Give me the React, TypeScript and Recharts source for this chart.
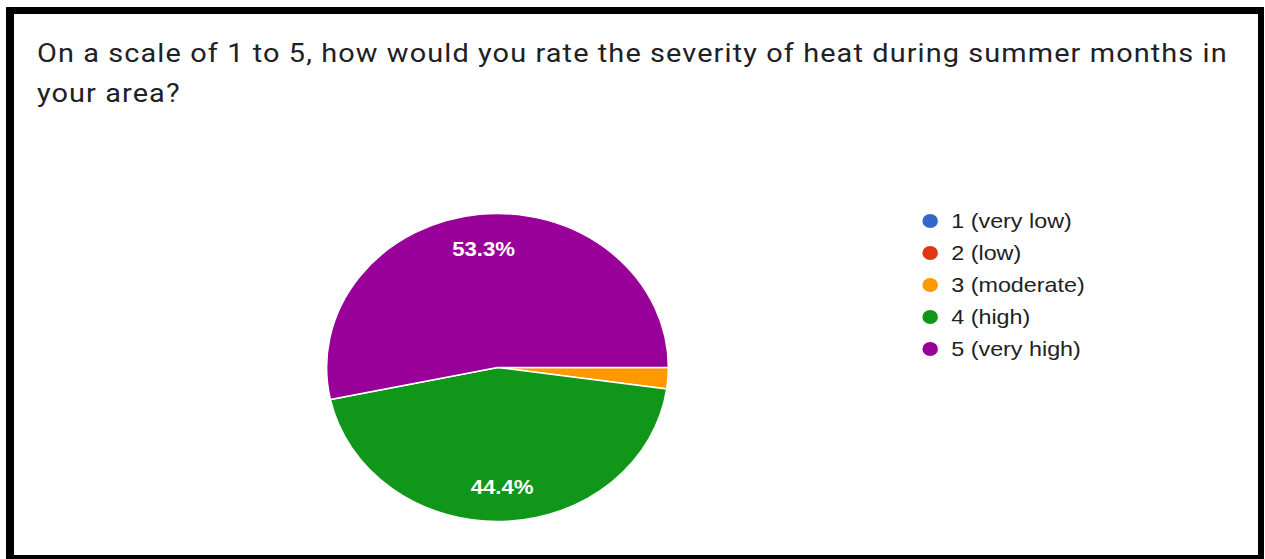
import React from "react";
import { PieChart, Pie, Cell } from "recharts";

// Survey answers: counts of respondents per rating
const ratingLabels = ["1 (very low)", "2 (low)", "3 (moderate)", "4 (high)", "5 (very high)"];
const ratingCounts = [0, 0, 1, 20, 24];
const ratingColors = ["#3366cc", "#dc3912", "#ff9900", "#109618", "#990099"];

const questionLines = [
  "On a scale of 1 to 5, how would you rate the severity of heat during summer months in",
  "your area?",
];

const data = ratingLabels.map((name, i) => ({ name, value: ratingCounts[i] }));

// The whole card is drawn a little wider than tall
const STRETCH_X = 1.11;
const RADIAN = Math.PI / 180;

const renderPercent = (props: any) => {
  const { cx, cy, midAngle, outerRadius, percent } = props;
  if (!percent || percent < 0.05) return null;
  const r = outerRadius * 0.775;
  const x = cx + r * Math.cos(-midAngle * RADIAN);
  const y = cy + r * Math.sin(-midAngle * RADIAN);
  return (
    <text
      x={x}
      y={y}
      fill="#ffffff"
      textAnchor="middle"
      dominantBaseline="central"
      style={{ fontFamily: 'Arial, "Liberation Sans", sans-serif', fontSize: 20, fontWeight: 700 }}
    >
      {(percent * 100).toFixed(1) + "%"}
    </text>
  );
};

const LegendList = () => (
  <div style={{ position: "absolute", left: 831, top: 205 }}>
    {ratingLabels.map((label, i) => (
      <div key={label} style={{ display: "flex", alignItems: "center", height: 32 }}>
        <span
          style={{
            display: "inline-block",
            flex: "0 0 14px",
            width: 14,
            height: 14,
            borderRadius: "50%",
            background: ratingColors[i],
            marginRight: 12,
          }}
        />
        <span
          style={{
            fontFamily: 'Arial, "Liberation Sans", sans-serif',
            fontSize: 21,
            color: "#222222",
            whiteSpace: "nowrap",
          }}
        >
          {label}
        </span>
      </div>
    ))}
  </div>
);

export default function App() {
  return (
    <div
      style={{
        position: "absolute",
        left: 0,
        top: 0,
        width: 1265,
        height: 559,
        background: "#ffffff",
        overflow: "hidden",
      }}
    >
      {/* card frame */}
      <div
        style={{
          position: "absolute",
          left: 6,
          top: 7,
          width: 1244,
          height: 541,
          borderStyle: "solid",
          borderColor: "#000000",
          borderLeftWidth: 8,
          borderTopWidth: 7,
          borderRightWidth: 6,
          borderBottomWidth: 4,
          background: "#ffffff",
        }}
      />
      <div
        style={{
          position: "absolute",
          left: 0,
          top: 0,
          width: 1265 / STRETCH_X,
          height: 559,
          transform: `scaleX(${STRETCH_X})`,
          transformOrigin: "0 0",
        }}
      >
        <div
          style={{
            position: "absolute",
            left: 33.3,
            top: 33,
            fontFamily: "Roboto, sans-serif",
            fontSize: 26,
            letterSpacing: 1.0,
            lineHeight: "40px",
            color: "#202124",
            whiteSpace: "nowrap",
          }}
        >
          {questionLines.map((l) => (
            <div key={l}>{l}</div>
          ))}
        </div>
        <div style={{ position: "absolute", left: 0, top: 0 }}>
          <PieChart width={1140} height={559} margin={{ top: 0, right: 0, bottom: 0, left: 0 }}>
            <Pie
              data={data}
              dataKey="value"
              nameKey="name"
              cx={448.2}
              cy={367.5}
              outerRadius={154}
              startAngle={0}
              endAngle={-360}
              stroke="#ffffff"
              strokeWidth={1.5}
              label={renderPercent}
              labelLine={false}
              isAnimationActive={false}
            >
              {data.map((d, i) => (
                <Cell key={d.name} fill={ratingColors[i]} />
              ))}
            </Pie>
          </PieChart>
        </div>
        <LegendList />
      </div>
    </div>
  );
}
